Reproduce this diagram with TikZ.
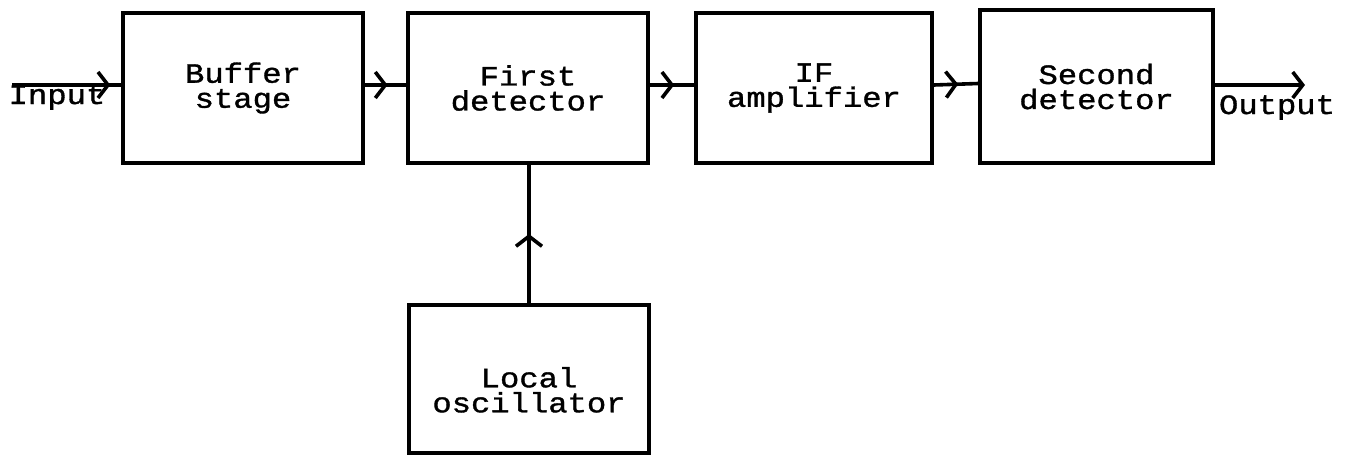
\documentclass[tikz,border=0pt]{standalone}
\usepackage{fontspec}
\setmonofont{Liberation Mono}[FakeStretch=1.15,FakeBold=1.2]
\usetikzlibrary{arrows.meta,decorations.markings}
\begin{document}
\begin{tikzpicture}[x=0.5pt,y=-0.5pt,
  txt/.style={font=\ttfamily\fontsize{14}{12.5}\selectfont},
  blk/.style={draw, line width=1.8pt, minimum width=120pt, minimum height=75pt,
    inner sep=0pt, align=center, txt},
  conn/.style={line width=1.8pt},
  barb/.tip={Straight Barb[length=5pt,width=13pt,line width=1.8pt]},
  midarrow/.style={decoration={markings, mark=at position #1 with {\arrow{barb}}},
    postaction={decorate}},
  midarrow/.default=0.55]
\useasboundingbox (0,0) rectangle (1350,456);
\node[blk] (buf) at (243,88) {Buffer\\stage};
\node[blk] (fd) at (528,88) {First\\detector};
\node[blk, minimum width=118pt] (ifa) at (814,88) {IF\\amplifier};
\node[blk, minimum width=116.5pt, minimum height=76.5pt] (sd) at (1096.5,86.5) {Second\\detector};
\node[blk, minimum height=74pt, text depth=0pt] (lo) at (529,379) {\raisebox{-3pt}{\parbox{110pt}{\centering Local\\oscillator}}};
\coordinate (inp) at (12,85);
\coordinate (outp) at (1305,85);
\draw[conn, midarrow=0.9] (inp) -- (buf.west |- inp);
\draw[conn, midarrow] ([yshift=1.5pt]buf.east) -- ([yshift=1.5pt]fd.west);
\draw[conn, midarrow] ([yshift=1.5pt]fd.east) -- ([yshift=1.5pt]ifa.west);
\draw[conn, midarrow] ([yshift=1.5pt]ifa.east) -- ([yshift=1.5pt]sd.west);
\draw[conn, -{barb}] (sd.east |- outp) -- (outp);
\draw[conn, midarrow=0.5] (lo.north) -- (lo.north |- fd.south);
\node[txt, anchor=base] (inlbl) at (57,104) {Input};
\node[txt, anchor=base] (outlbl) at (1277,114) {Output};
\end{tikzpicture}
\end{document}
